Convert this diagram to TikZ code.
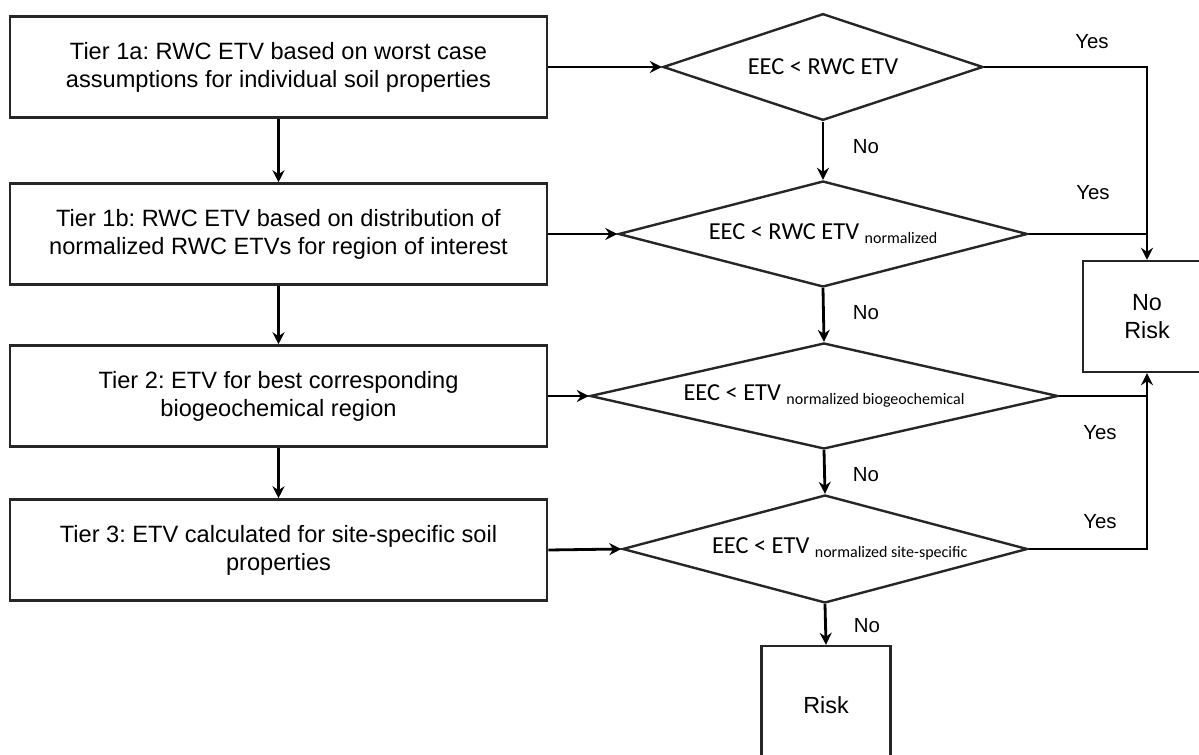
\documentclass[tikz,border=0pt]{standalone}
\usepackage{fontspec}
\setmainfont{Liberation Sans}
\newfontfamily\calib{Carlito}
\usetikzlibrary{arrows.meta,shapes.geometric}
\frenchspacing
\begin{document}
\begin{tikzpicture}[x=0.75pt,y=-0.75pt,
  tierbox/.style={draw=black!85, line width=1.9pt, minimum width=402.75pt, minimum height=75.75pt,
    inner sep=0pt, align=center, font=\fontsize{17.7}{21}\selectfont},
  test/.style={draw=black!85, line width=1.8pt, shape=diamond, aspect=4.4, inner sep=0pt,
    font=\calib\fontsize{18.3}{20}\selectfont},
  endbox/.style={draw=black!85, line width=1.8pt, inner sep=0pt, align=center,
    font=\fontsize{17.5}{21}\selectfont},
  flow/.style={line width=2.1pt, -{Stealth[length=9pt,width=9pt,inset=3pt]}},
  plainline/.style={line width=2.1pt},
  tag/.style={font=\fontsize{15.3}{18}\selectfont}]
\useasboundingbox (0,0) rectangle (1199,755);
\clip (0,0) rectangle (1199,755);

% tier boxes
\node[tierbox] (t1a) at (278.5,67) {Tier 1a: RWC ETV based on worst case\\assumptions for individual soil properties};
\node[tierbox] (t1b) at (278.5,234) {Tier 1b: RWC ETV based on distribution of\\normalized RWC ETVs for region of interest};
\node[tierbox] (t2) at (278.5,396) {Tier 2: ETV for best corresponding\\biogeochemical region};
\node[tierbox] (t3) at (278.5,550) {Tier 3: ETV calculated for site-specific soil\\properties};

% decision diamonds
\node[test, minimum width=240pt, minimum height=80pt] (d1) at (823,67) {EEC < RWC ETV};
\node[test, minimum width=306.75pt, minimum height=79.5pt] (d2) at (823,234)
  {EEC < RWC ETV {\fontsize{12}{14}\selectfont\raisebox{-0.5ex}{normalized}}};
\node[test, minimum width=351pt, minimum height=79.5pt] (d3) at (824,396)
  {EEC < ETV {\fontsize{12}{14}\selectfont\raisebox{-0.5ex}{normalized biogeochemical}}};
\node[test, minimum width=303.75pt, minimum height=81pt] (d4) at (825,549)
  {\hspace*{22pt}EEC < ETV {\fontsize{12}{14}\selectfont\raisebox{-0.5ex}{normalized site-specific}}};

% outcomes
\node[endbox, minimum width=96pt, minimum height=83.25pt] (nr) at (1147,316.5) {No\\Risk};
\node[endbox, minimum width=96.75pt, minimum height=88.5pt] (risk) at (826,705) {Risk};

% tier sequence
\draw[flow] (t1a.south) -- (t1b.north);
\draw[flow] (t1b.south) -- (t2.north);
\draw[flow] (t2.south) -- (t3.north);

% tier to test
\draw[flow] (t1a.east) -- (d1.west);
\draw[flow] (t1b.east) -- (d2.west);
\draw[flow] (t2.east) -- (d3.west);
\draw[flow] (t3.east) -- (d4.west);

% "No" branches
\draw[flow] (d1.south) -- (d2.north);
\draw[flow] (d2.south) -- (d3.north);
\draw[flow] (d3.south) -- (d4.north);
\draw[flow] (d4.south) -- (risk.north);

% "Yes" branches
\draw[flow] (d1.east) -| (nr.north);
\draw[plainline] (d2.east) -- (d2.east -| nr.north);
\draw[plainline] (d3.east) -- (d3.east -| nr.south);
\draw[flow] (d4.east) -| (nr.south);

% branch labels
\node[tag] (y1) at (1092,42) {Yes};
\node[tag] (y2) at (1093,193) {Yes};
\node[tag] (y3) at (1100,433) {Yes};
\node[tag] (y4) at (1100,522) {Yes};
\node[tag] (n1) at (866,147) {No};
\node[tag] (n2) at (866,313) {No};
\node[tag] (n3) at (866,475) {No};
\node[tag] (n4) at (867,626) {No};
\end{tikzpicture}
\end{document}
